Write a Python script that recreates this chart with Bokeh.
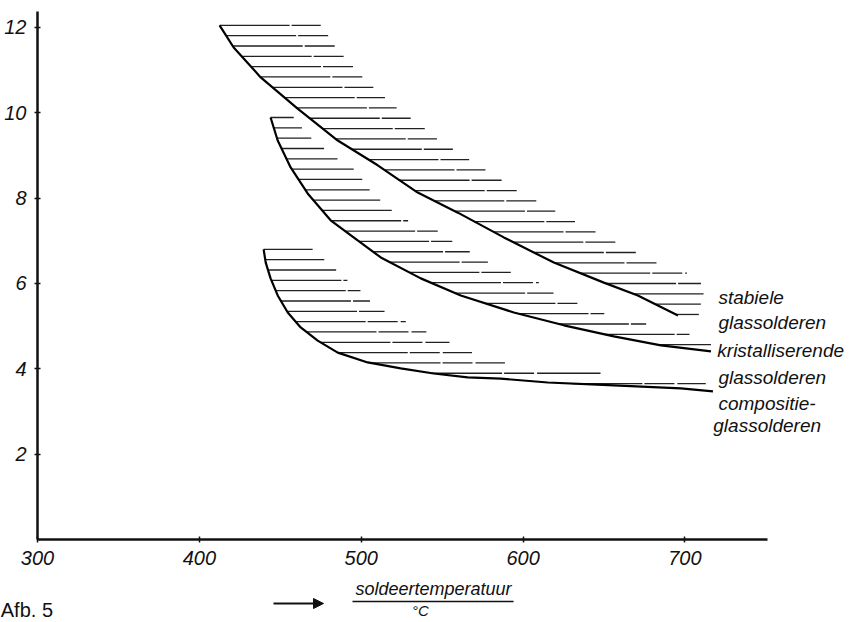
import numpy as np
from bokeh.plotting import figure
from bokeh.models import Range1d, FixedTicker, Label, Arrow, NormalHead
from bokeh.embed import file_html
from bokeh.resources import INLINE

# ---- data ----
x_ticks = [300, 400, 500, 600, 700]
y_ticks = [2, 4, 6, 8, 10, 12]

# stabiele glassolderen: lower curve and right edge of hatched band
stab_x = [412.5, 421.2, 437.9, 460.7, 485.5, 510.2, 534.9, 559.7, 588.1, 619.0, 649.9, 670.9, 695.7]
stab_y = [12.05, 11.53, 10.83, 10.10, 9.35, 8.77, 8.13, 7.66, 7.08, 6.49, 6.02, 5.72, 5.25]
stab_edge_x = [475.0, 484.9, 494.7, 507.7, 522.6, 540.5, 547.3, 596.8, 609.1, 621.5, 633.2,
               646.8, 658.6, 670.9, 682.0, 700.6, 709.9, 711.7, 709.9, 708.6]
stab_edge_y = [12.05, 11.56, 11.09, 10.59, 10.09, 9.60, 9.37, 8.18, 7.92, 7.66, 7.43,
               7.19, 6.96, 6.73, 6.49, 6.26, 6.00, 5.77, 5.53, 5.30]

# kristalliserende glassolderen
kris_x = [444.0, 448.4, 456.4, 466.9, 481.1, 497.8, 512.1, 536.8, 561.5, 594.3, 625.2, 656.1, 685.2, 716.1]
kris_y = [9.89, 9.35, 8.72, 8.11, 7.48, 7.01, 6.61, 6.12, 5.72, 5.32, 5.02, 4.76, 4.55, 4.41]
kris_edge_x = [458.3, 470.0, 486.1, 496.6, 505.9, 512.7, 519.5, 529.4, 547.9, 557.2, 567.7,
               578.8, 592.4, 611.0, 619.0, 633.8, 649.3, 677.1, 703.7, 716.1]
kris_edge_y = [9.86, 9.37, 8.90, 8.65, 8.16, 7.92, 7.69, 7.46, 7.22, 6.96, 6.73,
               6.49, 6.26, 6.00, 5.77, 5.53, 5.30, 5.04, 4.80, 4.57]

# compositie-glassolderen
comp_x = [439.7, 441.0, 444.0, 448.4, 454.6, 462.6, 473.1, 485.5, 504.0, 524.4, 544.8,
          565.8, 586.2, 615.3, 656.1, 697.5, 717.3]
comp_y = [6.80, 6.49, 6.12, 5.72, 5.32, 4.97, 4.66, 4.38, 4.15, 4.01, 3.89,
          3.80, 3.77, 3.68, 3.61, 3.54, 3.47]
comp_edge_x = [469.4, 476.2, 483.6, 489.8, 498.5, 503.4, 512.1, 526.3, 539.9, 553.5,
               566.5, 581.9, 631.4, 709.9, 717.3]
comp_edge_y = [6.82, 6.59, 6.35, 6.12, 5.88, 5.65, 5.39, 5.13, 4.87, 4.64,
               4.41, 4.17, 3.94, 3.73, 3.54]

labels = ["stabiele", "glassolderen", "kristalliserende", "glassolderen",
          "compositie-", "glassolderen"]

# ---- figure: frame spans the canvas, axes fixed at x=300 / y=0 ----
FONT = "Liberation Sans"
p = figure(width=855, height=622, output_backend="svg", toolbar_location=None,
           x_range=Range1d(277.14, 805.37), y_range=Range1d(-1.945, 12.632),
           min_border=0)
p.outline_line_color = None
p.grid.visible = False
p.background_fill_color = "white"
p.border_fill_color = "white"

for ax in (p.xaxis[0], p.yaxis[0]):
    ax.axis_line_width = 2.5
    ax.axis_line_color = "#111111"
    ax.major_tick_line_width = 1.5
    ax.major_tick_line_color = "#111111"
    ax.major_tick_in = 3
    ax.major_tick_out = 3
    ax.minor_tick_line_color = None
    ax.major_label_text_font = FONT
    ax.major_label_text_font_style = "italic"
    ax.major_label_text_font_size = "20px"
    ax.major_label_text_color = "#111111"
p.xaxis.ticker = FixedTicker(ticks=x_ticks)
p.yaxis.ticker = FixedTicker(ticks=y_ticks)
p.xaxis.fixed_location = 0
p.yaxis.fixed_location = 300
p.xaxis.bounds = (300, 751)
p.yaxis.bounds = (0, 12.37)
p.xaxis.major_label_standoff = 8
p.yaxis.major_label_standoff = 8

SPACING = 0.242  # hatch spacing (style)


def hatch(cx, cy, ex, ey):
    cx = np.asarray(cx); cy = np.asarray(cy)
    ex = np.asarray(ex); ey = np.asarray(ey)
    top = cy[0]
    bottom = min(cy[-1], ey[-1]) - 0.02
    n = int(np.floor((top - bottom) / SPACING)) + 1
    levels = top - SPACING * np.arange(n)
    x0 = np.interp(levels, cy[::-1], cx[::-1])
    x1 = np.interp(levels, ey[::-1], ex[::-1])
    keep = x1 > x0
    p.segment(x0=x0[keep], y0=levels[keep], x1=x1[keep], y1=levels[keep],
              line_color="#222222", line_width=1.3, line_dash="70 2 30 3")


hatch(stab_x, stab_y, stab_edge_x, stab_edge_y)
hatch(kris_x, kris_y, kris_edge_x, kris_edge_y)
hatch(comp_x, comp_y, comp_edge_x, comp_edge_y)

for cx, cy in ((stab_x, stab_y), (kris_x, kris_y), (comp_x, comp_y)):
    p.line(cx, cy, line_color="black", line_width=2.2)

# right-hand labels
label_y = [5.67, 5.09, 4.43, 3.80, 3.19, 2.67]
label_x = [720.7, 720.7, 720.0, 720.7, 720.7, 717.5]
for t, lx, ly in zip(labels, label_x, label_y):
    p.add_layout(Label(x=lx, y=ly, text=t, text_font=FONT, text_font_style="italic",
                       text_font_size="19px", text_baseline="middle", text_color="#111111"))

# axis label below
p.add_layout(Label(x=544.7, y=-1.17, text="soldeertemperatuur", text_font=FONT,
                   text_font_style="italic", text_font_size="18px", text_align="center",
                   text_baseline="middle", text_color="#111111"))
p.add_layout(Arrow(end=None, x_start=494.6, y_start=-1.45, x_end=594.1, y_end=-1.45,
                   line_color="#111111", line_width=1.5))
p.add_layout(Label(x=536.6, y=-1.47, text="°C", text_font=FONT, text_font_style="italic",
                   text_font_size="15px", text_align="center", text_baseline="top",
                   text_color="#111111"))
p.add_layout(Arrow(end=NormalHead(size=10, fill_color="#111111", line_color="#111111"),
                   x_start=445.8, y_start=-1.50, x_end=476.7, y_end=-1.50,
                   line_color="#111111", line_width=1.8))
p.add_layout(Label(x=277.3, y=-1.40, text="Afb. 5", text_font=FONT, text_font_size="20px",
                   text_baseline="top", text_color="#111111"))

open("out.html", "w").write(file_html(p, INLINE))
